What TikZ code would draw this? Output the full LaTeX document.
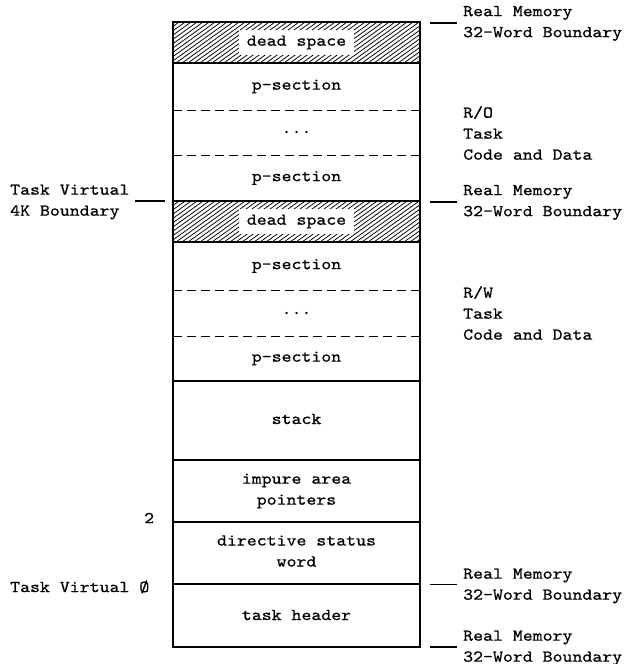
\documentclass[tikz,border=0pt]{standalone}
\usepackage{fontspec}
\newfontfamily\memfont[FakeStretch=1.14,FakeBold=0.7]{lmmono10-regular.otf}
\begin{document}
\begin{tikzpicture}[x=1pt,y=-1pt,
  txt/.style={font={\memfont\fontsize{16.6}{21}\selectfont}, inner sep=0pt},
  cell/.style={txt, align=center},
  note/.style={txt, align=left, anchor=west},
  deadtag/.style={txt, fill=white, inner xsep=8pt, inner ysep=6pt},
  divider/.style={line width=1.1pt},
  dashdiv/.style={line width=0.9pt, dash pattern=on 9pt off 5pt},
  tick/.style={line width=1.1pt},
  hatch/.style={line width=0.75pt},
  outline/.style={line width=1.6pt}]
\useasboundingbox (0,0) rectangle (627,664);

% hatched dead-space bands
\foreach \top/\bot in {22/63, 201/242}{
  \begin{scope}
    \clip (173,\top) rectangle (420,\bot);
    \foreach \i in {0,6,...,330}
      \draw[hatch] ({110+\i},\bot) -- ++(60,-43);
  \end{scope}
}

% row dividers
\foreach \yy in {63,201,242,381,460,522,584}
  \draw[divider] (173,\yy) -- (420,\yy);
\foreach \yy in {110,155,290,336}
  \draw[dashdiv] (173,\yy) -- (420,\yy);

% outer frame
\draw[outline] (173,22) rectangle (420,647);

% cell texts
\node[deadtag] (dead1) at (296.5,42.5) {dead space};
\node[cell] (ps1) at (296.5,86.5) {p-section};
\node[cell] (dots1) at (296.5,132) {...};
\node[cell] (ps2) at (296.5,178) {p-section};
\node[deadtag] (dead2) at (296.5,221.5) {dead space};
\node[cell] (ps3) at (296.5,266) {p-section};
\node[cell] (dots2) at (296.5,313) {...};
\node[cell] (ps4) at (296.5,358.5) {p-section};
\node[cell] (stack) at (296.5,419) {stack};
\node[cell] (impure) at (296.5,491) {impure area\\pointers};
\node[cell] (dsw) at (296.5,551) {directive status\\word};
\node[cell] (header) at (296.5,615) {task header};

% right-hand annotations
\node[note] (rm1) at (463,23.5) {Real Memory\\32-Word Boundary};
\node[note] (ro) at (463,133) {R/O\\Task\\Code and Data};
\node[note] (rm2) at (463,202.5) {Real Memory\\32-Word Boundary};
\node[note] (rw) at (463,313) {R/W\\Task\\Code and Data};
\node[note] (rm3) at (463,586) {Real Memory\\32-Word Boundary};
\node[note] (rm4) at (463,648) {Real Memory\\32-Word Boundary};
\foreach \n/\dy in {rm1/-0.5, rm2/-0.5, rm3/-1.5, rm4/-1}
  \draw[tick] ([xshift=-6pt,yshift=-\dy pt]\n.west) -- ++(-27,0);

% left-hand annotations
\node[note] (tv4k) at (10,202) {Task Virtual\\4K Boundary};
\draw[tick] ([xshift=5pt]tv4k.east |- 0,201) -- (165,201);
\node[note] (two) at (144,518) {2};
\node[note] (tv0) at (10,587) {Task Virtual Ø};
\end{tikzpicture}
\end{document}
